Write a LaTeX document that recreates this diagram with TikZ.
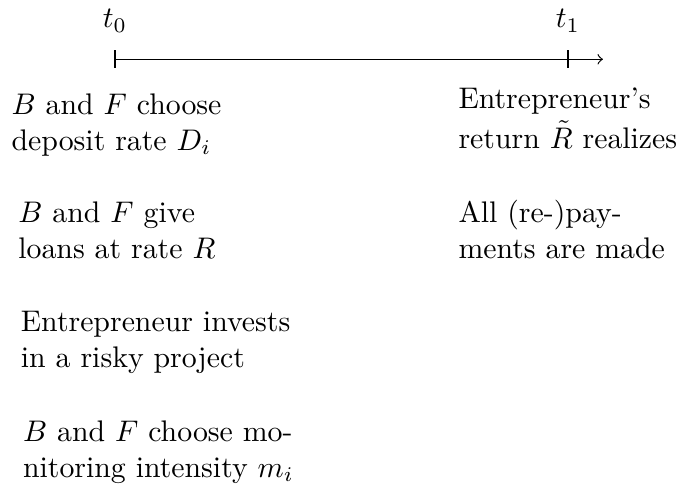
\documentclass[tikz,border=0pt]{standalone}
\usepackage{amsmath, amssymb}
\usepackage{tikz}

\tikzset{
    event/.style={align=left, inner sep=0pt, anchor=base west},
    tick/.style={thin}
}

\begin{document}
\begin{tikzpicture}
    \useasboundingbox (0, 0) rectangle (7.983, -5.767);

    % time axis
    \coordinate (t0) at (1.356, -0.699);
    \coordinate (t1) at (6.698, -0.699);
    \coordinate (tend) at (7.11, -0.699);
    \draw[->] (t0) -- (tend);
    \draw[tick] ([yshift=3pt]t0) -- ([yshift=-3pt]t0);
    \draw[tick] ([yshift=3pt]t1) -- ([yshift=-3pt]t1);
    \node[anchor=base] (lab0) at (1.356, -0.33) {$t_0$};
    \node[anchor=base] (lab1) at (6.698, -0.33) {$t_1$};

    % events at t0
    \node[event] (dep) at (0.130, -1.771) {$B$ and $F$ choose\\deposit rate $D_i$};
    \node[event] (loan) at (0.210, -3.051) {$B$ and $F$ give\\loans at rate $R$};
    \node[event] (inv) at (0.240, -4.331) {Entrepreneur invests\\in a risky project};
    \node[event] (mon) at (0.265, -5.625) {$B$ and $F$ choose mo-\\nitoring intensity $m_i$};

    % events at t1
    \node[event] (ret) at (5.400, -1.750) {Entrepreneur's\\[1.5pt]return $\tilde{R}$ realizes};
    \node[event] (pay) at (5.400, -3.049) {All (re-)pay-\\ments are made};
\end{tikzpicture}
\end{document}
